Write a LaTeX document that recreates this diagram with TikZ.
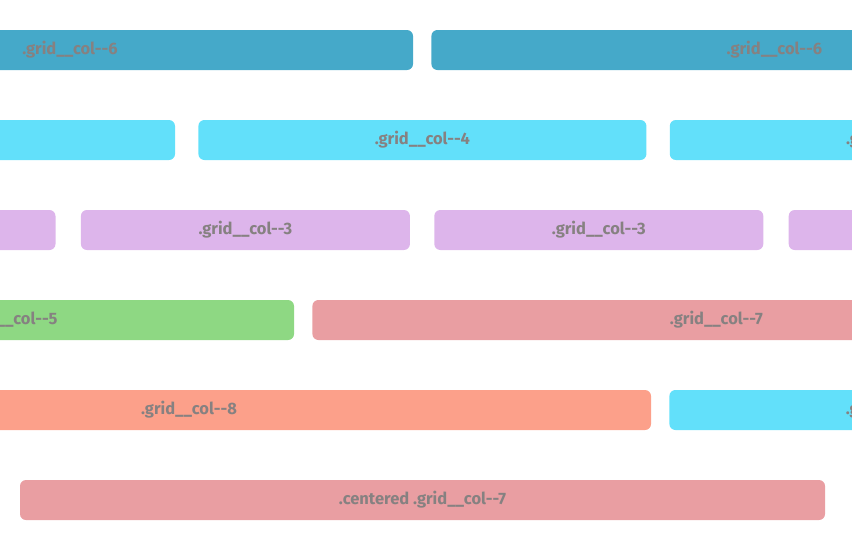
\documentclass[tikz,border=0pt]{standalone}
\usepackage{fontspec}
\setmainfont{Fira Sans}
\usetikzlibrary{positioning}
\definecolor{colsix}{HTML}{45A9C9}
\definecolor{colfour}{HTML}{62E0FA}
\definecolor{colthree}{HTML}{DDB5EB}
\definecolor{colfive}{HTML}{8ED883}
\definecolor{colseven}{HTML}{E99EA2}
\definecolor{coleight}{HTML}{FCA08A}
\definecolor{labelgray}{HTML}{868181}
\newcommand{\gridcol}[1]{.grid\_\_col-\kern0pt-#1}

\begin{document}
\begin{tikzpicture}[
    x=1pt, y=-1pt,
    gridbox/.style={rectangle, rounded corners=6, minimum height=40, inner sep=0,
        text=labelgray, font=\bfseries\fontsize{16.5}{19}\selectfont},
    ]
    \useasboundingbox (0,0) rectangle (852,550);
    \clip (0,0) rectangle (852,550);

    % row 1: two halves
    \node (sixa) [gridbox, fill=colsix, minimum width=686] at (70,50) {\gridcol{6}};
    \node (sixb) [gridbox, fill=colsix, minimum width=686, right=18 of sixa] {\gridcol{6}};

    % row 2: three thirds
    \node (foura) [gridbox, fill=colfour, minimum width=448] at (-49,140) {\gridcol{4}};
    \node (fourb) [gridbox, fill=colfour, minimum width=448, right=23 of foura] {\gridcol{4}};
    \node (fourc) [gridbox, fill=colfour, minimum width=448, right=23 of fourb] {\gridcol{4}};

    % row 3: four quarters
    \node (threea) [gridbox, fill=colthree, minimum width=329] at (-109,230) {\gridcol{3}};
    \node (threeb) [gridbox, fill=colthree, minimum width=329, right=25 of threea] {\gridcol{3}};
    \node (threec) [gridbox, fill=colthree, minimum width=329, right=24 of threeb] {\gridcol{3}};
    \node (threed) [gridbox, fill=colthree, minimum width=329, right=25 of threec] {\gridcol{3}};

    % row 4: five + seven
    \node (five) [gridbox, fill=colfive, minimum width=568] at (10,320) {\gridcol{5}};
    \node (seven) [gridbox, fill=colseven, minimum width=808, right=18 of five] {\gridcol{7}};

    % row 5: eight + four
    \node (eight) [gridbox, fill=coleight, minimum width=924] at (189,410) {\gridcol{8}};
    \node (fourd) [gridbox, fill=colfour, minimum width=448, right=18 of eight] {\gridcol{4}};

    % row 6: centered
    \node (centered) [gridbox, fill=colseven, minimum width=805] at (422.5,500) {.centered \gridcol{7}};
\end{tikzpicture}
\end{document}
